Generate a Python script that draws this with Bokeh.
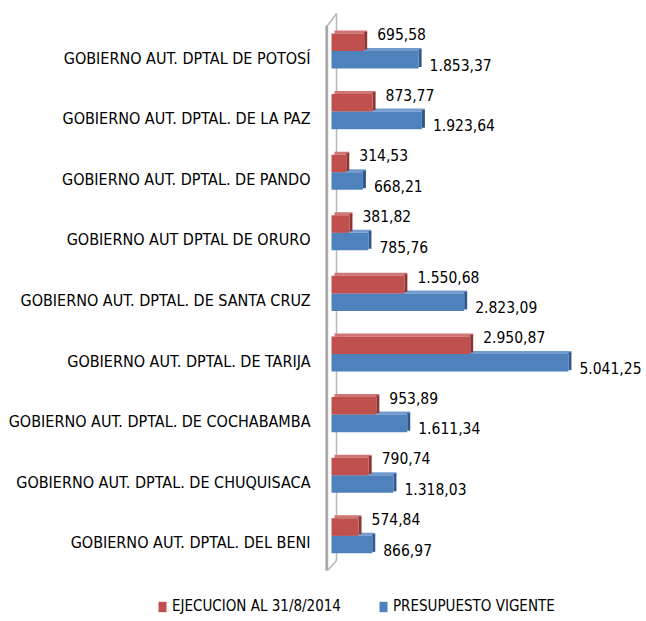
from bokeh.plotting import figure
from bokeh.models import Range1d, ColumnDataSource, Legend, LegendItem
from bokeh.core.properties import value
from bokeh.embed import file_html
from bokeh.resources import INLINE

# ---- data (top to bottom as in the chart) ----
categories = [
    "GOBIERNO AUT. DPTAL DE POTOSÍ",
    "GOBIERNO AUT. DPTAL. DE LA PAZ",
    "GOBIERNO AUT. DPTAL. DE PANDO",
    "GOBIERNO AUT DPTAL DE ORURO",
    "GOBIERNO AUT. DPTAL. DE SANTA CRUZ",
    "GOBIERNO AUT. DPTAL. DE TARIJA",
    "GOBIERNO AUT. DPTAL. DE COCHABAMBA",
    "GOBIERNO AUT. DPTAL. DE CHUQUISACA",
    "GOBIERNO AUT. DPTAL. DEL BENI",
]
ejecucion = [695.58, 873.77, 314.53, 381.82, 1550.68, 2950.87, 953.89, 790.74, 574.84]
presupuesto = [1853.37, 1923.64, 668.21, 785.76, 2823.09, 5041.25, 1611.34, 1318.03, 866.97]
series_names = ["EJECUCION AL 31/8/2014", "PRESUPUESTO VIGENTE"]

RED, RED_TOP, RED_SIDE = "#C0504D", "#CF7573", "#8C3532"
BLUE, BLUE_TOP, BLUE_SIDE = "#4F81BD", "#739BCE", "#30588A"
FONT = "DejaVu Sans Condensed"


def fmt(v):
    s = f"{v:,.2f}"
    return s.replace(",", "X").replace(".", ",").replace("X", ".")


W, H = 644, 619
PX_X = 0.047             # pixels per unit (horizontal)
PX_Y = 60.6              # pixels per category (vertical)
ZERO_PX = 331            # canvas x of value 0
TOP_PX = 50.5            # canvas y of first category centre

n = len(categories)
ypos = [n - 1 - i for i in range(n)]

x_start = -ZERO_PX / PX_X
x_end = x_start + W / PX_X
y_end = (n - 1) + TOP_PX / PX_Y
y_start = y_end - H / PX_Y


def dx(px):  # canvas px -> data x
    return x_start + px / PX_X


def dy(py):  # canvas px (from top) -> data y
    return y_end - py / PX_Y


off = 0.145
bh = 0.29
depth_x = 3 / PX_X
depth_y = 3 / PX_Y


def faces(vals, yc):
    return dict(
        top_y=[y + bh / 2 + depth_y / 2 for y in yc],
        top_l=[depth_x] * n,
        top_r=[v + depth_x for v in vals],
        side_y=[y + depth_y / 2 for y in yc],
        side_l=list(vals),
        side_r=[v + depth_x for v in vals],
    )


y_eje = [v + off for v in ypos]
y_pre = [v - off for v in ypos]
fe = faces(ejecucion, y_eje)
fp = faces(presupuesto, y_pre)

src = ColumnDataSource(dict(
    cat=categories, y=ypos, y_eje=y_eje, y_pre=y_pre, zero=[0] * n,
    eje=ejecucion, pre=presupuesto,
    e_top_y=fe["top_y"], e_top_l=fe["top_l"], e_top_r=fe["top_r"],
    e_side_y=fe["side_y"], e_side_l=fe["side_l"], e_side_r=fe["side_r"],
    p_top_y=fp["top_y"], p_top_l=fp["top_l"], p_top_r=fp["top_r"],
    p_side_y=fp["side_y"], p_side_l=fp["side_l"], p_side_r=fp["side_r"],
    eje_lbl=[fmt(v) for v in ejecucion],
    pre_lbl=[fmt(v) for v in presupuesto],
))

p = figure(
    width=W, height=H,
    x_range=Range1d(x_start, x_end), y_range=Range1d(y_start, y_end),
    output_backend="svg", toolbar_location=None,
    min_border=0,
)
p.outline_line_color = None
p.grid.grid_line_color = None
p.axis.visible = False

# 3D wall of the category axis
p.line(x=[dx(327), dx(336), dx(336), dx(327), dx(327)],
       y=[dy(25), dy(13), dy(560), dy(570), dy(25)],
       line_color="#B8B8B8", line_width=1.5)
p.line(x=[dx(326), dx(326)], y=[dy(25), dy(570)], line_color="#A0A0A0", line_width=2)

# PRESUPUESTO bars (3D)
p.hbar(y="p_top_y", left="p_top_l", right="p_top_r", height=depth_y, source=src,
       fill_color=BLUE_TOP, line_color=None)
p.hbar(y="p_side_y", left="p_side_l", right="p_side_r", height=bh, source=src,
       fill_color=BLUE_SIDE, line_color=None)
r_pre = p.hbar(y="y_pre", left="zero", right="pre", height=bh, source=src,
               fill_color=BLUE, line_color=None)
# EJECUCION bars (3D)
p.hbar(y="e_top_y", left="e_top_l", right="e_top_r", height=depth_y, source=src,
       fill_color=RED_TOP, line_color=None)
p.hbar(y="e_side_y", left="e_side_l", right="e_side_r", height=bh, source=src,
       fill_color=RED_SIDE, line_color=None)
r_eje = p.hbar(y="y_eje", left="zero", right="eje", height=bh, source=src,
               fill_color=RED, line_color=None)

# category labels
p.text(x="zero", y="y", text="cat", source=src, x_offset=-21, y_offset=7,
       text_align="right", text_baseline="middle",
       text_font=value(FONT), text_font_size="16px", text_color="#000000")

# value labels
p.text(x="eje", y="y_eje", text="eje_lbl", source=src,
       x_offset=13, y_offset=-8, text_baseline="middle", text_align="left",
       text_font=value(FONT), text_font_size="15.5px", text_color="#000000")
p.text(x="pre", y="y_pre", text="pre_lbl", source=src,
       x_offset=11, y_offset=5, text_baseline="middle", text_align="left",
       text_font=value(FONT), text_font_size="15.5px", text_color="#000000")

legend = Legend(
    items=[LegendItem(label=series_names[0], renderers=[r_eje]),
           LegendItem(label=series_names[1], renderers=[r_pre])],
    orientation="horizontal", location=(157, 4),
    padding=0, margin=0, spacing=37, label_standoff=5,
    glyph_width=10, glyph_height=13, label_height=13,
    label_text_font=FONT, label_text_font_size="15px", label_text_color="#000000",
    border_line_color=None, background_fill_alpha=0,
)
p.add_layout(legend, "center")

open("out.html", "w").write(file_html(p, INLINE))
